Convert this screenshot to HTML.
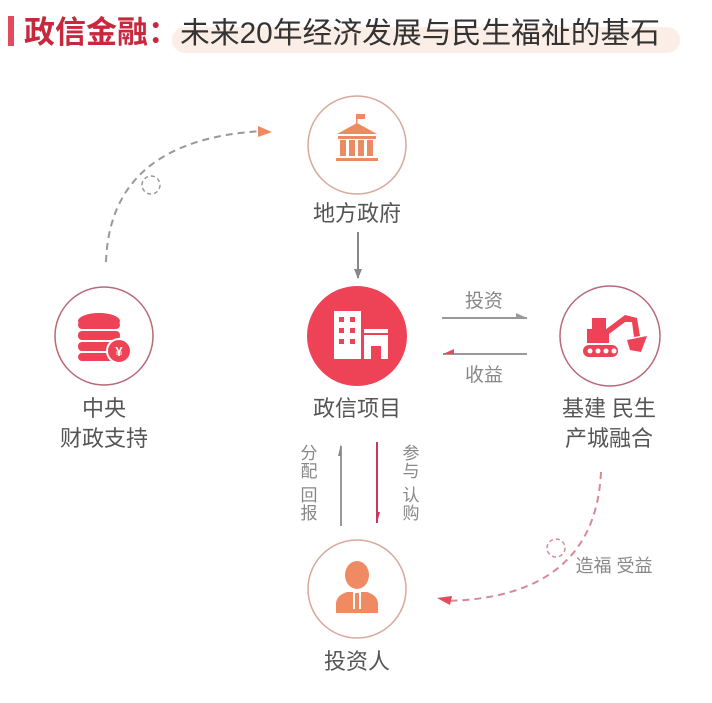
<!DOCTYPE html>
<html><head><meta charset="utf-8"><style>
html,body{margin:0;padding:0;background:#fff;}
svg text{font-family:"Liberation Sans","Noto Sans CJK SC",sans-serif;}
</style></head><body>
<svg width="712" height="698" viewBox="0 0 712 698" xmlns="http://www.w3.org/2000/svg">
<defs>
<marker id="ag" markerWidth="10" markerHeight="10" refX="9" refY="5" orient="auto" markerUnits="userSpaceOnUse"><path d="M0,1 L10,5 L0,9 Z" fill="#888"/></marker>
</defs>
<rect width="712" height="698" fill="#fff"/>
<!-- title -->
<rect x="8" y="16" width="6" height="30" fill="#e24b5c"/>
<rect x="172" y="27" width="508" height="26" rx="13" fill="#fbeee6"/>
<text x="24" y="43" font-size="31" font-weight="bold" fill="#c8283e">政信金融：</text>
<text x="180" y="43" font-size="29.8" fill="#333">未来20年经济发展与民生福祉的基石</text>

<!-- circles -->
<circle cx="357" cy="145" r="49" fill="#fff" stroke="#d9a89a" stroke-width="1.5"/>
<circle cx="357" cy="336" r="50" fill="#ee4257"/>
<circle cx="104" cy="336" r="49" fill="#fff" stroke="#b76a78" stroke-width="1.5"/>
<circle cx="610" cy="336" r="50" fill="#fff" stroke="#b76a78" stroke-width="1.5"/>
<circle cx="357" cy="589" r="49" fill="#fff" stroke="#d9a89a" stroke-width="1.5"/>

<!-- gov icon -->
<g fill="#ec8a64">
<rect x="356" y="114" width="1.5" height="10"/>
<rect x="357" y="114" width="8" height="5"/>
<path d="M337,134 L357,123 L377,134 Z"/>
<rect x="338" y="136" width="38" height="3"/>
<rect x="340" y="140" width="6" height="16"/><rect x="349" y="140" width="6" height="16"/><rect x="358" y="140" width="6" height="16"/><rect x="367" y="140" width="6" height="16"/>
<rect x="336" y="158" width="42" height="3"/>
</g>
<!-- building icon -->
<g>
<rect x="334" y="311" width="27" height="48" fill="#fff"/>
<g fill="#ee4257"><rect x="339" y="317" width="5" height="5"/><rect x="350" y="317" width="5" height="5"/><rect x="339" y="328" width="5" height="5"/><rect x="350" y="328" width="5" height="5"/><rect x="339" y="339" width="5" height="5"/><rect x="350" y="339" width="5" height="5"/></g>
<rect x="364" y="329" width="24" height="30" fill="#fff"/>
<rect x="364" y="333" width="24" height="2" fill="#ee4257"/>
<rect x="371" y="346" width="10" height="13" fill="#ee4257"/>
</g>
<!-- coins icon -->
<g fill="#ee4257">
<ellipse cx="99" cy="321" rx="21" ry="8"/>
<rect x="78" y="321" width="42" height="8" rx="4"/>
<rect x="78" y="331" width="42" height="9" rx="4"/>
<rect x="78" y="342" width="42" height="9" rx="4"/>
<rect x="78" y="353" width="42" height="8" rx="4"/>
<circle cx="119" cy="351" r="12" stroke="#fff" stroke-width="2"/>
</g>
<text x="119" y="356" font-size="13" font-weight="bold" fill="#fff" text-anchor="middle">¥</text>
<!-- excavator icon -->
<g fill="#ee4257">
<rect x="587" y="329" width="22" height="14"/>
<rect x="592" y="318" width="14" height="12"/>
<path d="M605,330 L625,315 L637,318 L640,336 L634,337 L632,322 L625,322 L609,334 Z"/>
<path d="M627,340 L647,336 L641,352 L630,350 Z"/>
<rect x="583" y="345" width="35" height="12" rx="6"/>
</g>
<g fill="#fff"><circle cx="590" cy="351" r="2.5"/><circle cx="598" cy="351" r="2.5"/><circle cx="606" cy="351" r="2.5"/><circle cx="614" cy="351" r="2.5"/></g>
<!-- person icon -->
<g fill="#ef8a62">
<ellipse cx="357" cy="575" rx="12" ry="14"/>
<path d="M336,613 L336,603 Q337,595 347,592 L353,592 L353,609 L361,609 L361,592 L367,592 Q377,595 378,603 L378,613 Z"/>
<rect x="355" y="593" width="4" height="16"/>
</g>

<!-- labels -->
<g font-size="22" fill="#555" text-anchor="middle">
<text x="357" y="221">地方政府</text>
<text x="357" y="416">政信项目</text>
<text x="104" y="416">中央</text>
<text x="104" y="446">财政支持</text>
<text x="609" y="416">基建 民生</text>
<text x="609" y="446">产城融合</text>
<text x="357" y="669">投资人</text>
</g>
<g font-size="19" fill="#888" text-anchor="middle">
<text x="484" y="307">投资</text>
<text x="484" y="381">收益</text>
</g>
<g font-size="18" fill="#888" text-anchor="middle">
<text x="614" y="572">造福 受益</text>
</g>
<g font-size="17" fill="#888" text-anchor="middle">
<text x="309" y="459">分</text><text x="309" y="477">配</text>
<text x="309" y="501">回</text><text x="309" y="519">报</text>
<text x="411" y="459">参</text><text x="411" y="477">与</text>
<text x="411" y="501">认</text><text x="411" y="519">购</text>
</g>

<!-- arrows -->
<line x1="358" y1="232" x2="358" y2="278" stroke="#888" stroke-width="2" marker-end="url(#ag)"/>
<line x1="442" y1="318" x2="527" y2="318" stroke="#999" stroke-width="2"/>
<path d="M516,313 L527,318 L516,318 Z" fill="#999"/>
<line x1="443" y1="354" x2="527" y2="354" stroke="#999" stroke-width="2"/>
<path d="M454,349 L443,354 L454,354 Z" fill="#e24b5c"/>
<line x1="341" y1="526" x2="341" y2="446" stroke="#999" stroke-width="2"/>
<path d="M338,456 L341,444 L341,456 Z" fill="#888"/>
<line x1="377" y1="442" x2="377" y2="523" stroke="#c8385a" stroke-width="2"/>
<path d="M377,523 L380,512 L377,512 Z" fill="#c8385a"/>

<!-- dashed arcs -->
<path d="M106,262 Q110,140 262,131" fill="none" stroke="#999" stroke-width="2" stroke-dasharray="7,5"/>
<path d="M258,126 L272,132 L258,137 Z" fill="#ec8a64"/>
<circle cx="151" cy="185" r="9" fill="none" stroke="#999" stroke-width="1.5" stroke-dasharray="4,3"/>
<path d="M601,472 Q595,598 445,601" fill="none" stroke="#d9889a" stroke-width="2" stroke-dasharray="7,5"/>
<path d="M437,598 L452,596 L450,605 Z" fill="#e24b5c"/>
<circle cx="556" cy="548" r="9" fill="none" stroke="#d9889a" stroke-width="1.5" stroke-dasharray="4,3"/>
</svg>
</body></html>
